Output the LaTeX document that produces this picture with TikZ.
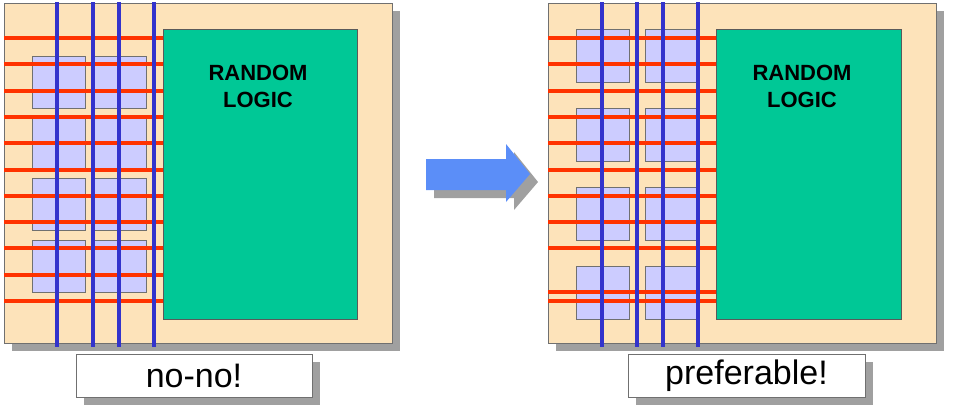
\documentclass[tikz,border=0pt]{standalone}
\usepackage{fontspec}
\setmainfont{Liberation Sans}
\usetikzlibrary{shadows}
\definecolor{Chip}{HTML}{FDE3BA}
\definecolor{Logic}{HTML}{00C896}
\definecolor{Macro}{HTML}{CCCCFF}
\definecolor{WireH}{HTML}{FF3300}
\definecolor{WireV}{HTML}{3333CC}
\definecolor{Shade}{HTML}{A0A0A0}
\definecolor{Edge}{HTML}{707070}
\definecolor{Push}{HTML}{5B8EF8}
\tikzset{
  shade8/.style={drop shadow={shadow xshift=8pt,shadow yshift=-8pt,fill=Shade,opacity=1}},
  chip/.style={draw=Edge,fill=Chip,thin,inner sep=0pt,shade8},
  logic/.style={draw=Edge!80!black,fill=Logic,thin,inner sep=0pt},
  macro/.style={draw=Edge,fill=Macro,thin},
  hwire/.style={draw=WireH,line width=4pt},
  vwire/.style={draw=WireV,line width=4pt},
  tag/.style={draw=Edge,fill=white,thin,inner sep=0pt,shade8,font=\fontsize{34}{38}\selectfont},
  logictext/.style={align=center,font=\fontsize{22}{27}\selectfont\bfseries}
}
\begin{document}
\begin{tikzpicture}[x=1pt,y=-1pt]
  \useasboundingbox (0,0) rectangle (956,410);
  % left floorplan
  \node[chip,minimum width=388pt,minimum height=340pt] (chipA) at (198,173) {};
  \node[logic,minimum width=194pt,minimum height=290pt] (logicA) at (260,174) {};
  \node[logictext] (textA) at (258,86) {RANDOM\\LOGIC};
  \foreach \x in {32,93} \foreach \y in {56,118,178,240}
    \draw[macro] (\x,\y) rectangle ++(53,52);
  \foreach \y in {38,64.3,90.6,116.9,143.2,169.5,195.8,222.1,248.4,274.7,301}
    \draw[hwire] (chipA.west |- 0,\y) -- (logicA.west |- 0,\y);
  \foreach \x in {57,93,119,154}
    \draw[vwire] (\x,2) -- (\x,347);
  \node[tag,minimum width=236pt,minimum height=43pt] (tagA) at (194,375.5) {no-no!};
  % right floorplan
  \node[chip,minimum width=388pt,minimum height=340pt] (chipB) at (742,173) {};
  \node[logic,minimum width=185pt,minimum height=290pt] (logicB) at (808.5,174) {};
  \node[logictext] (textB) at (802,86) {RANDOM\\LOGIC};
  \foreach \x in {576,645} \foreach \y in {29,108,187,266}
    \draw[macro] (\x,\y) rectangle ++(53,53);
  \foreach \y in {38,64.3,90.6,116.9,143.2,169.5,195.8,222.1,248.4,292,301}
    \draw[hwire] (chipB.west |- 0,\y) -- (logicB.west |- 0,\y);
  \foreach \x in {602,637,663,698}
    \draw[vwire] (\x,2) -- (\x,347);
  \node[tag,minimum width=237pt,minimum height=43pt] (tagB) at (746.5,375.5) {preferable!};
  % arrow
  \fill[Shade] (434,167) -- (514,167) -- (514,152) -- (538,182) -- (514,210) -- (514,198) -- (434,198) -- cycle;
  \fill[Push] (426,159) -- (506,159) -- (506,144) -- (530,174) -- (506,202) -- (506,190) -- (426,190) -- cycle;
\end{tikzpicture}
\end{document}
